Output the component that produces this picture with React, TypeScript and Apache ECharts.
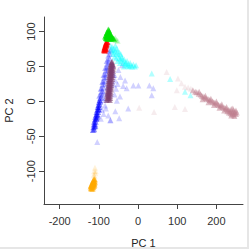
import React, { useEffect, useRef } from "react";
import * as echarts from "echarts";

const xTicks = [-200, -100, 0, 100, 200];
const yTicks = [-100, -50, 0, 50, 100];

const green = [[-76,103],[-74,102],[-78,100],[-73,100],[-75,99],[-80,98],[-77,97],[-72,97],[-70,96],[-82,95],[-79,95],[-75,95],[-68,94],[-84,93],[-80,93],[-76,93],[-72,93],[-66,92],[-82,91],[-78,91],[-74,91],[-70,91],[-64,91],[-80,90],[-76,90],[-72,90],[-68,90],[-62,90],[-74,96],[-70,93],[-78,94],[-77,98],[-73,94],[-69,92],[-81,92]];
const greenFaint = [[-60,89],[-56,88],[-52,87],[-58,91]];

const red = [[-79,86],[-80,84],[-82,84],[-81,82],[-83,82],[-82,80],[-84,80],[-83,78],[-85,78],[-84,76],[-86,76],[-85,74],[-87,74],[-86,73],[-84,73],[-81,80],[-82,76],[-83,75],[-80,82],[-85,77],[-78,85]];

const cyan = [[-70,80],[-66,78],[-62,76],[-68,74],[-64,72],[-58,74],[-60,70],[-55,68],[-52,72],[-50,66],[-56,62],[-48,62],[-45,60],[-42,64],[-40,58],[-38,55],[-35,60],[-32,56],[-30,52],[-28,58],[-25,54],[-22,50],[-20,55],[-18,52],[-15,50],[-12,53],[-8,50],[-5,52],[-60,64],[-52,58],[-46,55],[-36,50],[-64,68],[-58,80],[-54,76],[-48,70],[-44,68],[-40,62],[-33,54],[-26,51]];
const cyanFaint = [[35,40],[82,32],[120,14],[134,9]];

const blue = [[-115,-41],[-112,-40],[-114,-37],[-111,-36],[-113,-33],[-110,-32],[-112,-29],[-108,-29],[-110,-26],[-107,-25],[-109,-22],[-105,-22],[-107,-19],[-104,-18],[-106,-15],[-102,-15],[-104,-12],[-101,-11],[-103,-8],[-99,-8],[-101,-5],[-98,-4],[-100,-1],[-96,0],[-98,2],[-109,-35],[-106,-24],[-103,-20],[-100,-12]];
const blueMid = [[-97,5],[-94,6],[-96,10],[-92,10],[-94,14],[-90,15],[-93,19],[-88,20],[-91,24],[-86,25],[-89,29],[-84,30],[-87,34],[-82,35],[-85,39],[-80,40],[-83,44],[-78,45],[-81,49],[-77,50],[-79,54],[-75,56],[-77,60],[-73,62],[-76,66],[-72,68],[-74,72],[-70,74],[-99,8],[-95,18],[-91,28],[-88,38],[-84,48],[-80,58]];
const blueFaint = [[-90,5],[-88,12],[-86,2],[-84,-6],[-80,10],[-78,20],[-82,-10],[-76,-20],[-70,-27],[-74,30],[-70,40],[-66,45],[-64,52],[-60,38],[-58,30],[-62,24],[-56,18],[-60,10],[-104,-58],[-71,-27],[-48,-24],[-29,19],[-12,23],[1,23],[29,23],[39,19],[35,9],[-46,7],[-54,1],[-25,-10],[-58,-14],[-50,45],[-33,30],[-41,52],[-63,38],[-45,35],[-52,25],[-38,22],[-92,-12],[-88,-18],[-95,-25]];

const purple = [[-80,2],[-76,3],[-72,2],[-79,5],[-75,6],[-71,5],[-79,8],[-75,9],[-71,8],[-78,11],[-74,12],[-70,11],[-78,14],[-74,15],[-70,14],[-77,17],[-73,18],[-69,17],[-77,20],[-73,21],[-69,20],[-76,23],[-72,24],[-68,23],[-76,26],[-72,27],[-68,26],[-75,29],[-71,30],[-67,29],[-74,32],[-70,33],[-66,32],[-74,35],[-70,36],[-66,35],[-73,38],[-69,39],[-65,38],[-73,41],[-69,42],[-65,41],[-72,44],[-68,45],[-64,44],[-72,47],[-68,48],[-64,47],[-71,50],[-67,51],[-63,50],[-70,53],[-67,54],[-64,53],[-68,56],[-66,57]];

const rosy = [[140,16],[146,14],[150,13],[155,11],[160,10],[163,8],[166,7],[170,6],[173,5],[176,4],[180,3],[183,2],[186,1],[190,0],[193,-1],[196,-2],[200,-3],[203,-4],[206,-5],[210,-6],[213,-7],[216,-8],[220,-9],[223,-10],[226,-11],[230,-12],[233,-13],[236,-14],[240,-15],[243,-16],[246,-17],[250,-18],[248,-15],[244,-19],[238,-11],[232,-16],[226,-8],[220,-13],[214,-4],[208,-9],[200,0],[194,-5],[186,4],[180,-1],[172,8],[165,3],[156,14],[244,-13],[236,-17],[228,-14],[252,-16],[240,-18],[246,-21],[238,-20],[242,-10],[250,-13]];
const rosyFaint = [[73,42],[102,33],[111,26],[99,16],[120,21],[94,-8],[120,-11],[41,-15],[3,-9],[128,20],[135,18]];

const orange = [[-112,-111],[-110,-112],[-114,-113],[-111,-114],[-113,-115],[-116,-115],[-110,-116],[-112,-117],[-115,-117],[-118,-118],[-111,-119],[-114,-119],[-117,-120],[-120,-120],[-112,-121],[-115,-121],[-118,-122],[-121,-122],[-114,-123],[-117,-123],[-120,-124],[-116,-125],[-119,-125],[-113,-118],[-116,-119],[-119,-121]];
const orangeFaint = [[-110,-95],[-112,-100],[-109,-103],[-113,-105],[-111,-107],[-108,-100]];

const groups = [
  { data: blueFaint, color: "#0000ff", opacity: 0.18 },
  { data: blueMid, color: "#0000ff", opacity: 0.25 },
  { data: blue, color: "#0000ff", opacity: 0.45 },
  { data: purple, color: "#7a3a6c", opacity: 0.55 },
  { data: cyanFaint, color: "#00ffff", opacity: 0.3 },
  { data: cyan, color: "#00ffff", opacity: 0.35 },
  { data: red, color: "#ff0000", opacity: 0.6 },
  { data: greenFaint, color: "#00e000", opacity: 0.2 },
  { data: green, color: "#00e000", opacity: 0.65 },
  { data: rosyFaint, color: "#c08090", opacity: 0.15 },
  { data: rosy, color: "#c08090", opacity: 0.5 },
  { data: orangeFaint, color: "#ffaa00", opacity: 0.15 },
  { data: orange, color: "#ffaa00", opacity: 0.6 },
];

const FONT = "'Liberation Sans', Arial, sans-serif";

export default function App() {
  const ref = useRef<HTMLDivElement>(null);
  useEffect(() => {
    if (!ref.current) return;
    const chart = echarts.init(ref.current, null, { renderer: "svg" });
    const axisLine = { show: true, onZero: false, lineStyle: { color: "#444", width: 1 } };
    const tick = { show: true, length: 5, lineStyle: { color: "#444" } };
    const nameTextStyle = { color: "#222", fontSize: 11, fontFamily: FONT };
    chart.setOption({
      animation: false,
      backgroundColor: "#fff",
      grid: { left: 44, top: 17, width: 199, height: 187, containLabel: false, outerBoundsMode: "none" },
      xAxis: {
        type: "value",
        min: -240,
        max: 268,
        axisLine,
        splitLine: { show: false },
        axisTick: { ...tick, customValues: xTicks },
        axisLabel: { customValues: xTicks, color: "#333", fontSize: 11, fontFamily: FONT, margin: 11 },
        name: "PC 1",
        nameLocation: "middle",
        nameGap: 33,
        nameTextStyle,
      },
      yAxis: {
        type: "value",
        min: -147,
        max: 121,
        axisLine,
        splitLine: { show: false },
        axisTick: { ...tick, customValues: yTicks },
        axisLabel: { customValues: yTicks, rotate: 90, color: "#333", fontSize: 11, fontFamily: FONT, margin: 8 },
        name: "PC 2",
        nameLocation: "middle",
        nameGap: 30,
        nameRotate: 90,
        nameTextStyle,
      },
      series: groups.map((g, i) => ({
        type: "scatter",
        name: "s" + i,
        symbol: "triangle",
        symbolSize: 6,
        data: g.data,
        itemStyle: { color: g.color, opacity: g.opacity },
        emphasis: { disabled: true },
      })),
    });
    return () => chart.dispose();
  }, []);
  return (
    <div style={{ position: "absolute", left: 0, top: 0, width: 249, height: 249, background: "#e6e6e6" }}>
      <div ref={ref} style={{ width: 247, height: 247, background: "#fff" }} />
    </div>
  );
}
